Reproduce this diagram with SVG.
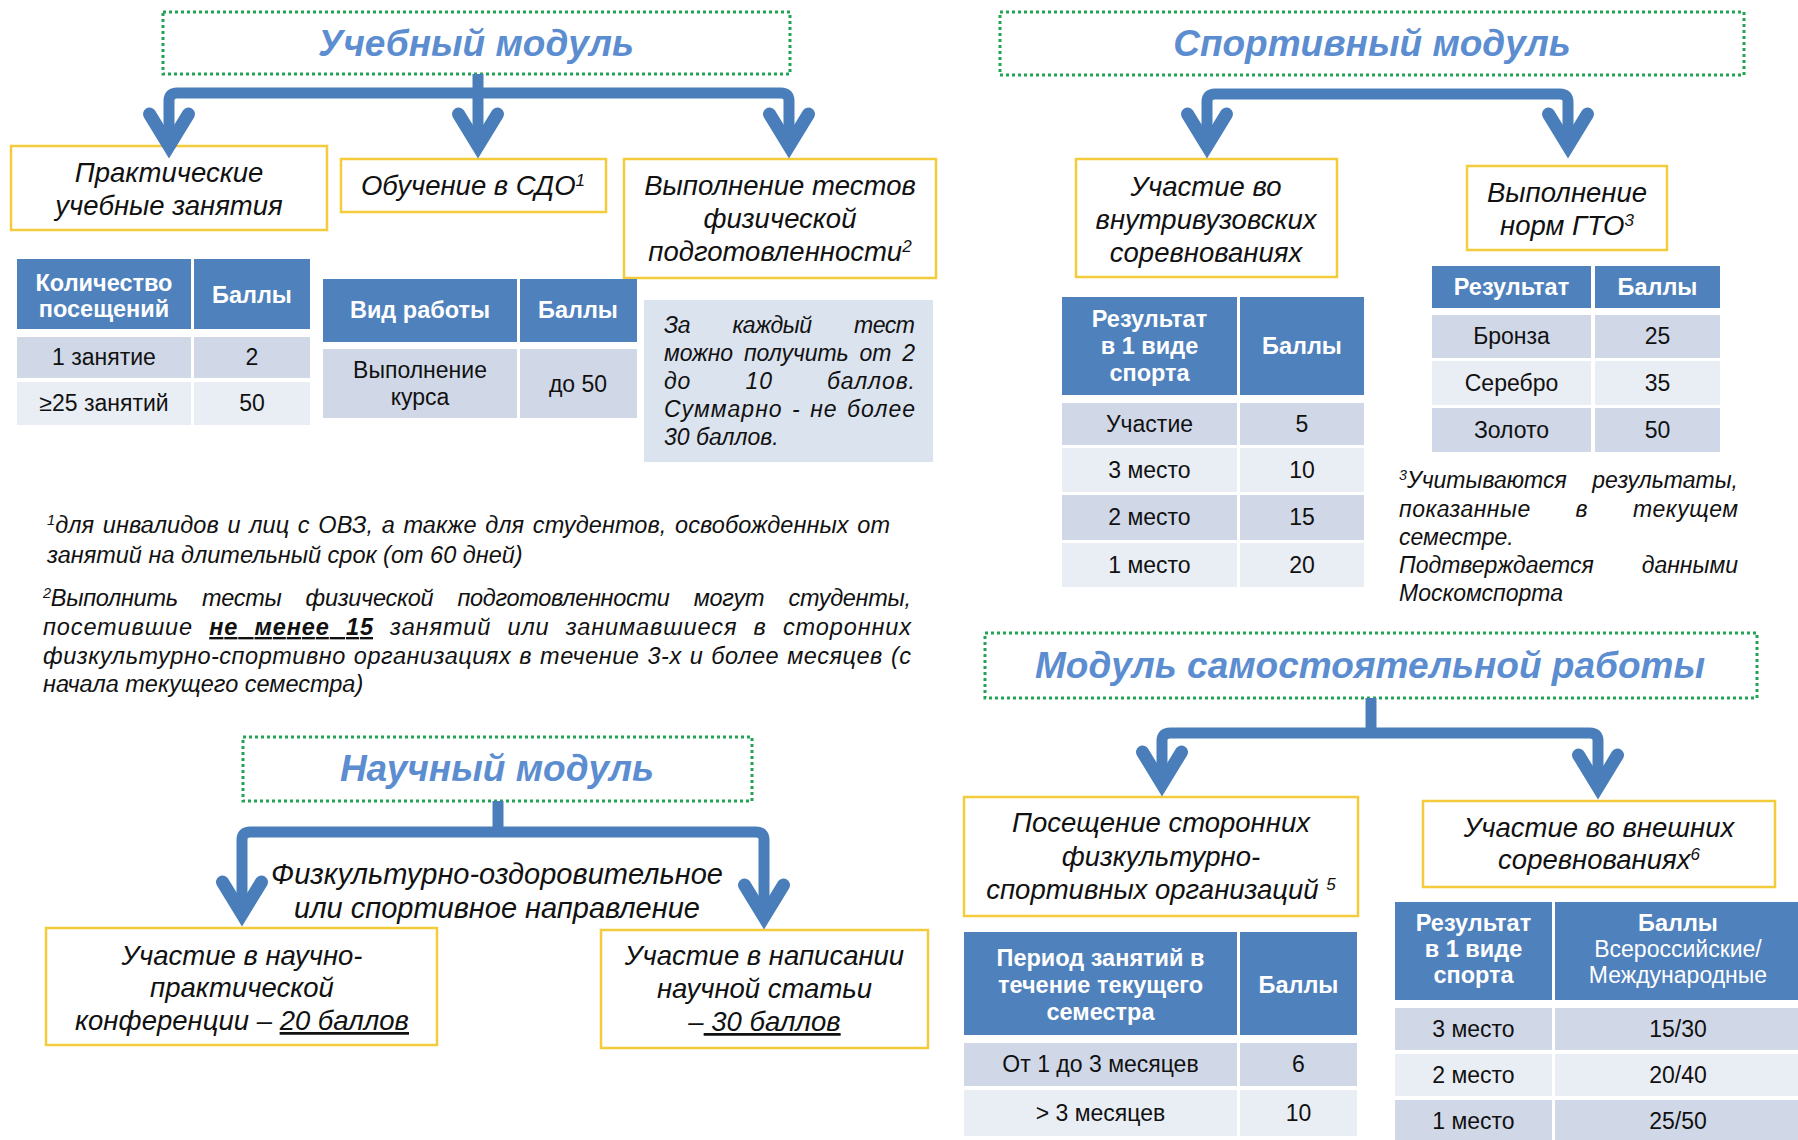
<svg xmlns="http://www.w3.org/2000/svg" xmlns:xlink="http://www.w3.org/1999/xlink" width="1798" height="1140" viewBox="0 0 1798 1140">
<style>
text { font-family: "Liberation Sans", Arial, sans-serif; }
.title { font-weight: bold; font-style: italic; font-size: 37px; fill: #5B8DD0; text-anchor: middle; }
.tbox { fill: #fff; stroke: #23A455; stroke-width: 3; stroke-dasharray: 3 3; }
.box { fill: #fff; stroke: #F4CB3A; stroke-width: 2.5; }
.bt { font-style: italic; font-size: 27.5px; fill: #111; text-anchor: middle; }
.big { font-size: 29px; }
.fn { font-style: italic; font-size: 23.5px; fill: #111; }
.nt { font-style: italic; font-size: 23px; fill: #111; }
.th { font-weight: bold; font-size: 23.5px; fill: #fff; text-anchor: middle; }
.thn { font-weight: normal; font-size: 23px; }
.td { font-size: 23px; fill: #111; text-anchor: middle; }
.hd { fill: #4F81BD; }
.r1 { fill: #D0D8E8; }
.r2 { fill: #E9EDF4; }
.note { fill: #DBE3EE; }
.sup { font-size: 62%; baseline-shift: super; }
.u { text-decoration: underline; }
.conn { fill: none; stroke: #4A7EBB; stroke-width: 11; stroke-linejoin: round; }
.chev { fill: none; stroke: #4A7EBB; stroke-width: 13; stroke-linecap: round; stroke-linejoin: miter; }
</style>
<defs>
<path id="chev" class="chev" d="M-19.5,-44 L0,-12 L19.5,-44"/>
</defs>

<!-- ===== Учебный модуль ===== -->
<g id="title-study">
<rect class="tbox" x="163" y="12" width="627" height="62"/>
<text class="title" x="476" y="56">Учебный модуль</text>
</g>
<g id="node-practical">
<rect class="box" x="11" y="146" width="316" height="84"/>
<text class="bt" x="169" y="182">Практические</text>
<text class="bt" x="169" y="215">учебные занятия</text>
</g>
<g id="node-sdo">
<rect class="box" x="341" y="159" width="265" height="53"/>
<text class="bt" x="473" y="195">Обучение в СДО<tspan class="sup">1</tspan></text>
</g>
<g id="node-tests">
<rect class="box" x="624" y="159" width="312" height="119"/>
<text class="bt" x="780" y="195">Выполнение тестов</text>
<text class="bt" x="780" y="228">физической</text>
<text class="bt" x="780" y="261">подготовленности<tspan class="sup">2</tspan></text>
</g>
<g id="table-visits">
<rect class="hd" x="17" y="259" width="174" height="70"/>
<rect class="hd" x="194" y="259" width="116" height="70"/>
<rect class="r1" x="17" y="337" width="174" height="41"/>
<rect class="r1" x="194" y="337" width="116" height="41"/>
<rect class="r2" x="17" y="382" width="174" height="43"/>
<rect class="r2" x="194" y="382" width="116" height="43"/>
<text class="th" x="104" y="291">Количество</text>
<text class="th" x="104" y="317">посещений</text>
<text class="th" x="252" y="303">Баллы</text>
<text class="td" x="104" y="365">1 занятие</text>
<text class="td" x="252" y="365">2</text>
<text class="td" x="104" y="411">≥25 занятий</text>
<text class="td" x="252" y="411">50</text>
</g>
<g id="table-sdo">
<rect class="hd" x="323" y="279" width="194" height="63"/>
<rect class="hd" x="520" y="279" width="117" height="63"/>
<rect class="r1" x="323" y="349" width="194" height="69"/>
<rect class="r1" x="520" y="349" width="117" height="69"/>
<text class="th" x="420" y="318">Вид работы</text>
<text class="th" x="578" y="318">Баллы</text>
<text class="td" x="420" y="378">Выполнение</text>
<text class="td" x="420" y="405">курса</text>
<text class="td" x="578" y="392">до 50</text>
</g>
<g id="note-tests">
<rect class="note" x="644" y="300" width="289" height="162"/>
<text class="nt" x="664" y="333" textLength="251" lengthAdjust="spacing" word-spacing="36.5">За каждый тест</text>
<text class="nt" x="664" y="361" textLength="251" lengthAdjust="spacing" word-spacing="4.5">можно получить от 2</text>
<text class="nt" x="664" y="389" textLength="251" lengthAdjust="spacing" word-spacing="46.8">до 10 баллов.</text>
<text class="nt" x="664" y="417" textLength="251" lengthAdjust="spacing" word-spacing="2">Суммарно - не более</text>
<text class="nt" x="664" y="445">30 баллов.</text>
</g>
<g id="footnote-1">
<text class="fn" x="47" y="533" textLength="843" lengthAdjust="spacing" word-spacing="2"><tspan class="sup">1</tspan>для инвалидов и лиц с ОВЗ, а также для студентов, освобожденных от</text>
<text class="fn" x="47" y="563">занятий на длительный срок (от 60 дней)</text>
</g>
<g id="footnote-2">
<text class="fn" x="43" y="606" textLength="868" lengthAdjust="spacing" word-spacing="18"><tspan class="sup">2</tspan>Выполнить тесты физической подготовленности могут студенты,</text>
<text class="fn" x="43" y="635" textLength="868" lengthAdjust="spacing" word-spacing="8.8">посетившие <tspan font-weight="bold" class="u">не менее 15</tspan> занятий или занимавшиеся в сторонних</text>
<text class="fn" x="43" y="664" textLength="868" lengthAdjust="spacing" word-spacing="1">физкультурно-спортивно организациях в течение 3-х и более месяцев (с</text>
<text class="fn" x="43" y="692">начала текущего семестра)</text>
</g>

<!-- ===== Спортивный модуль ===== -->
<g id="title-sport">
<rect class="tbox" x="1000" y="12" width="744" height="63"/>
<text class="title" x="1372" y="56">Спортивный модуль</text>
</g>
<g id="node-internal">
<rect class="box" x="1076" y="159" width="261" height="118"/>
<text class="bt" x="1206" y="196">Участие во</text>
<text class="bt" x="1206" y="229">внутривузовских</text>
<text class="bt" x="1206" y="262">соревнованиях</text>
</g>
<g id="node-gto">
<rect class="box" x="1467" y="166" width="200" height="84"/>
<text class="bt" x="1567" y="202">Выполнение</text>
<text class="bt" x="1567" y="235">норм ГТО<tspan class="sup">3</tspan></text>
</g>
<g id="table-internal">
<rect class="hd" x="1062" y="297" width="175" height="98"/>
<rect class="hd" x="1240" y="297" width="124" height="98"/>
<rect class="r1" x="1062" y="403" width="175" height="42"/>
<rect class="r1" x="1240" y="403" width="124" height="42"/>
<rect class="r2" x="1062" y="448" width="175" height="44"/>
<rect class="r2" x="1240" y="448" width="124" height="44"/>
<rect class="r1" x="1062" y="495" width="175" height="45"/>
<rect class="r1" x="1240" y="495" width="124" height="45"/>
<rect class="r2" x="1062" y="543" width="175" height="44"/>
<rect class="r2" x="1240" y="543" width="124" height="44"/>
<text class="th" x="1149.5" y="327">Результат</text>
<text class="th" x="1149.5" y="354">в 1 виде</text>
<text class="th" x="1149.5" y="381">спорта</text>
<text class="th" x="1302" y="354">Баллы</text>
<text class="td" x="1149.5" y="432">Участие</text>
<text class="td" x="1302" y="432">5</text>
<text class="td" x="1149.5" y="478">3 место</text>
<text class="td" x="1302" y="478">10</text>
<text class="td" x="1149.5" y="525">2 место</text>
<text class="td" x="1302" y="525">15</text>
<text class="td" x="1149.5" y="573">1 место</text>
<text class="td" x="1302" y="573">20</text>
</g>
<g id="table-gto">
<rect class="hd" x="1432" y="266" width="159" height="42"/>
<rect class="hd" x="1595" y="266" width="125" height="42"/>
<rect class="r1" x="1432" y="315" width="159" height="43"/>
<rect class="r1" x="1595" y="315" width="125" height="43"/>
<rect class="r2" x="1432" y="361" width="159" height="44"/>
<rect class="r2" x="1595" y="361" width="125" height="44"/>
<rect class="r1" x="1432" y="408" width="159" height="44"/>
<rect class="r1" x="1595" y="408" width="125" height="44"/>
<text class="th" x="1511.5" y="295">Результат</text>
<text class="th" x="1657.5" y="295">Баллы</text>
<text class="td" x="1511.5" y="344">Бронза</text>
<text class="td" x="1657.5" y="344">25</text>
<text class="td" x="1511.5" y="391">Серебро</text>
<text class="td" x="1657.5" y="391">35</text>
<text class="td" x="1511.5" y="438">Золото</text>
<text class="td" x="1657.5" y="438">50</text>
</g>
<g id="footnote-3">
<text class="nt" y="488"><tspan x="1399"><tspan class="sup">3</tspan>Учитываются</tspan><tspan x="1738" text-anchor="end">результаты,</tspan></text>
<text class="nt" x="1399" y="517" textLength="339" lengthAdjust="spacing" word-spacing="38">показанные в текущем</text>
<text class="nt" x="1399" y="545">семестре.</text>
<text class="nt" y="573"><tspan x="1399">Подтверждается</tspan><tspan x="1738" text-anchor="end">данными</tspan></text>
<text class="nt" x="1399" y="601">Москомспорта</text>
</g>

<!-- ===== Научный модуль ===== -->
<g id="title-science">
<rect class="tbox" x="243" y="737" width="509" height="64"/>
<text class="title" x="497" y="781">Научный модуль</text>
</g>
<g id="label-direction">
<text class="bt big" x="497" y="884">Физкультурно-оздоровительное</text>
<text class="bt big" x="497" y="918">или спортивное направление</text>
</g>
<g id="node-conference">
<rect class="box" x="46" y="928" width="391" height="117"/>
<text class="bt" x="242" y="965">Участие в научно-</text>
<text class="bt" x="242" y="997">практической</text>
<text class="bt" x="242" y="1030">конференции – <tspan class="u">20 баллов</tspan></text>
</g>
<g id="node-article">
<rect class="box" x="601" y="930" width="327" height="118"/>
<text class="bt" x="764.5" y="965">Участие в написании</text>
<text class="bt" x="764.5" y="998">научной статьи</text>
<text class="bt" x="764.5" y="1031">–<tspan class="u"> 30 баллов</tspan></text>
</g>

<!-- ===== Модуль самостоятельной работы ===== -->
<g id="title-self">
<rect class="tbox" x="985" y="633" width="772" height="65"/>
<text class="title" x="1370" y="678">Модуль самостоятельной работы</text>
</g>
<g id="node-external-orgs">
<rect class="box" x="964" y="797" width="394" height="119"/>
<text class="bt" x="1161" y="832">Посещение сторонних</text>
<text class="bt" x="1161" y="866">физкультурно-</text>
<text class="bt" x="1161" y="899">спортивных организаций <tspan class="sup">5</tspan></text>
</g>
<g id="node-external-comp">
<rect class="box" x="1423" y="801" width="352" height="86"/>
<text class="bt" x="1599" y="837">Участие во внешних</text>
<text class="bt" x="1599" y="869">соревнованиях<tspan class="sup">6</tspan></text>
</g>
<g id="table-period">
<rect class="hd" x="964" y="932" width="273" height="103"/>
<rect class="hd" x="1240" y="932" width="117" height="103"/>
<rect class="r1" x="964" y="1043" width="273" height="43"/>
<rect class="r1" x="1240" y="1043" width="117" height="43"/>
<rect class="r2" x="964" y="1090" width="273" height="46"/>
<rect class="r2" x="1240" y="1090" width="117" height="46"/>
<text class="th" x="1100.5" y="966">Период занятий в</text>
<text class="th" x="1100.5" y="993">течение текущего</text>
<text class="th" x="1100.5" y="1020">семестра</text>
<text class="th" x="1298.5" y="993">Баллы</text>
<text class="td" x="1100.5" y="1072">От 1 до 3 месяцев</text>
<text class="td" x="1298.5" y="1072">6</text>
<text class="td" x="1100.5" y="1121">&gt; 3 месяцев</text>
<text class="td" x="1298.5" y="1121">10</text>
</g>
<g id="table-external">
<rect class="hd" x="1395" y="902" width="157" height="98"/>
<rect class="hd" x="1555" y="902" width="243" height="98"/>
<rect class="r1" x="1395" y="1008" width="157" height="42"/>
<rect class="r1" x="1555" y="1008" width="243" height="42"/>
<rect class="r2" x="1395" y="1054" width="157" height="42"/>
<rect class="r2" x="1555" y="1054" width="243" height="42"/>
<rect class="r1" x="1395" y="1100" width="157" height="42"/>
<rect class="r1" x="1555" y="1100" width="243" height="42"/>
<text class="th" x="1473.5" y="931">Результат</text>
<text class="th" x="1473.5" y="957">в 1 виде</text>
<text class="th" x="1473.5" y="983">спорта</text>
<text class="th" x="1678" y="931">Баллы</text>
<text class="th thn" x="1678" y="957">Всероссийские/</text>
<text class="th thn" x="1678" y="983">Международные</text>
<text class="td" x="1473.5" y="1037">3 место</text>
<text class="td" x="1678" y="1037">15/30</text>
<text class="td" x="1473.5" y="1083">2 место</text>
<text class="td" x="1678" y="1083">20/40</text>
<text class="td" x="1473.5" y="1129">1 место</text>
<text class="td" x="1678" y="1129">25/50</text>
</g>

<!-- ===== Connectors ===== -->
<g id="connectors">
<path class="conn" d="M478,74 V146"/>
<path class="conn" d="M169,146 V101 Q169,93 177,93 H781 Q789,93 789,101 V146"/>
<use xlink:href="#chev" x="169" y="158"/>
<use xlink:href="#chev" x="478" y="158"/>
<use xlink:href="#chev" x="789" y="158"/>

<path class="conn" d="M1207,146 V102 Q1207,94 1215,94 H1560 Q1568,94 1568,102 V146"/>
<use xlink:href="#chev" x="1207" y="158"/>
<use xlink:href="#chev" x="1568" y="158"/>

<path class="conn" d="M498,801 V832"/>
<path class="conn" d="M242,914 V840 Q242,832 250,832 H756 Q764,832 764,840 V917"/>
<use xlink:href="#chev" x="242" y="926"/>
<use xlink:href="#chev" x="764" y="929"/>

<path class="conn" d="M1371,698 V733"/>
<path class="conn" d="M1162,784 V741 Q1162,733 1170,733 H1590 Q1598,733 1598,741 V787"/>
<use xlink:href="#chev" x="1162" y="796"/>
<use xlink:href="#chev" x="1598" y="799"/>
</g>
</svg>
